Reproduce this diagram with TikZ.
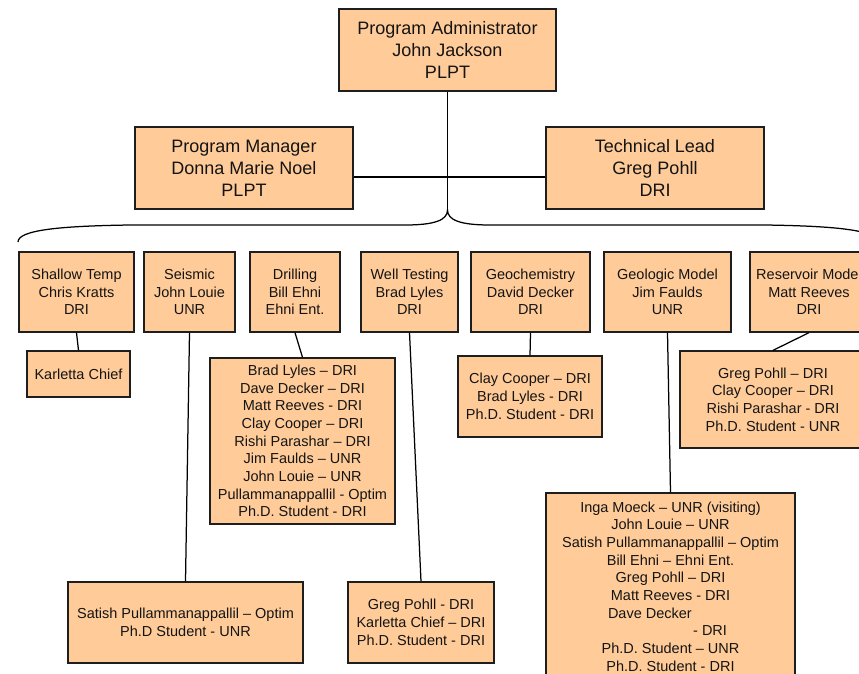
\documentclass[tikz,border=0pt]{standalone}
\usepackage{fontspec}
\setmainfont{Liberation Sans}
\definecolor{boxfill}{HTML}{FFCC99}
\definecolor{boxline}{HTML}{1E1E1E}
\definecolor{txt}{HTML}{141414}
\tikzset{
  box/.style={draw=boxline, fill=boxfill, line width=1.3pt, inner sep=0pt, align=center, text=txt},
  big/.style={font=\fontsize{18}{22}\selectfont},
  small/.style={font=\fontsize{14.5}{17.7}\selectfont},
  link/.style={draw=black, line width=1.25pt},
}
\begin{document}
\begin{tikzpicture}[x=1pt,y=-1pt]
\useasboundingbox (0,0) rectangle (859,673);
% top level
\node[box,big,minimum width=217pt,minimum height=82pt] (pa) at (447.5,50) {Program Administrator\\John Jackson\\PLPT};
\node[box,big,minimum width=218pt,minimum height=82pt] (pm) at (244,168) {Program Manager\\Donna Marie Noel\\PLPT};
\node[box,big,minimum width=218pt,minimum height=82pt] (tl) at (655,168) {Technical Lead\\Greg Pohll\\DRI};
% second row
\node[box,small,minimum width=115pt,minimum height=80pt] (st) at (76.5,292) {Shallow Temp\\Chris Kratts\\DRI};
\node[box,small,minimum width=91pt,minimum height=80pt] (se) at (189.5,292) {Seismic\\John Louie\\UNR};
\node[box,small,minimum width=90pt,minimum height=80pt] (dr) at (295,292) {Drilling\\Bill Ehni\\Ehni Ent.};
\node[box,small,minimum width=97pt,minimum height=80pt] (wt) at (409.5,292) {Well Testing\\Brad Lyles\\DRI};
\node[box,small,minimum width=119pt,minimum height=80pt] (gc) at (530.5,292) {Geochemistry\\David Decker\\DRI};
\node[box,small,minimum width=127pt,minimum height=80pt] (gm) at (667.5,292) {Geologic Model\\Jim Faulds\\UNR};
\node[box,small,minimum width=118pt,minimum height=80pt] (rm) at (809,292) {Reservoir Model\\Matt Reeves\\DRI};
% sub boxes
\node[box,small,minimum width=103pt,minimum height=46pt] (kc) at (78.5,374) {Karletta Chief};
\node[box,small,minimum width=235pt,minimum height=81pt] (ss) at (185.5,622.5) {Satish Pullammanappallil – Optim\\Ph.D Student - UNR};
\node[box,small,minimum width=185pt,minimum height=166pt] (ds) at (302.5,441) {Brad Lyles – DRI\\Dave Decker – DRI\\Matt Reeves - DRI\\Clay Cooper – DRI\\Rishi Parashar – DRI\\Jim Faulds – UNR\\John Louie – UNR\\Pullammanappallil - Optim\\Ph.D. Student - DRI};
\node[box,small,minimum width=146pt,minimum height=81pt] (wg) at (421,622.5) {Greg Pohll - DRI\\Karletta Chief – DRI\\Ph.D. Student - DRI};
\node[box,small,minimum width=144pt,minimum height=81pt] (gs) at (530,396.5) {Clay Cooper – DRI\\Brad Lyles - DRI\\Ph.D. Student - DRI};
\node[box,small,minimum width=249pt,minimum height=187pt] (gms) at (670.5,586.5) {Inga Moeck – UNR (visiting)\\John Louie – UNR\\Satish Pullammanappallil – Optim\\Bill Ehni – Ehni Ent.\\Greg Pohll – DRI\\Matt Reeves - DRI\\\makebox[125pt][l]{Dave Decker}\\\makebox[113pt][r]{- DRI}\\Ph.D. Student – UNR\\Ph.D. Student - DRI};
\node[box,small,minimum width=186pt,minimum height=97pt] (rs) at (773,399.5) {Greg Pohll – DRI\\Clay Cooper – DRI\\Rishi Parashar - DRI\\Ph.D. Student - UNR};
% connectors
\coordinate (tip) at (447.5,210);
\draw[link] (pa.south) -- (tip);
\draw[link] ([yshift=-9pt]pm.east) -- ([yshift=-9pt]tl.west);
\draw[link] (18,242) .. controls (18,230) and (60,226) .. (130,225) -- (405,225) .. controls (435,225) and (447.5,220) .. (tip)
  .. controls (447.5,220) and (460,225) .. (490,225) -- (765,225) .. controls (835,226) and (877,230) .. (877,242);
\draw[link] (st.south) -- (kc.north);
\draw[link] (se.south) -- (ss.north);
\draw[link] (dr.south) -- (ds.north);
\draw[link] (wt.south) -- (wg.north);
\draw[link] (gc.south) -- (gs.north);
\draw[link] (gm.south) -- (gms.north);
\draw[link] (rm.south) -- (rs.north);
\end{tikzpicture}
\end{document}
